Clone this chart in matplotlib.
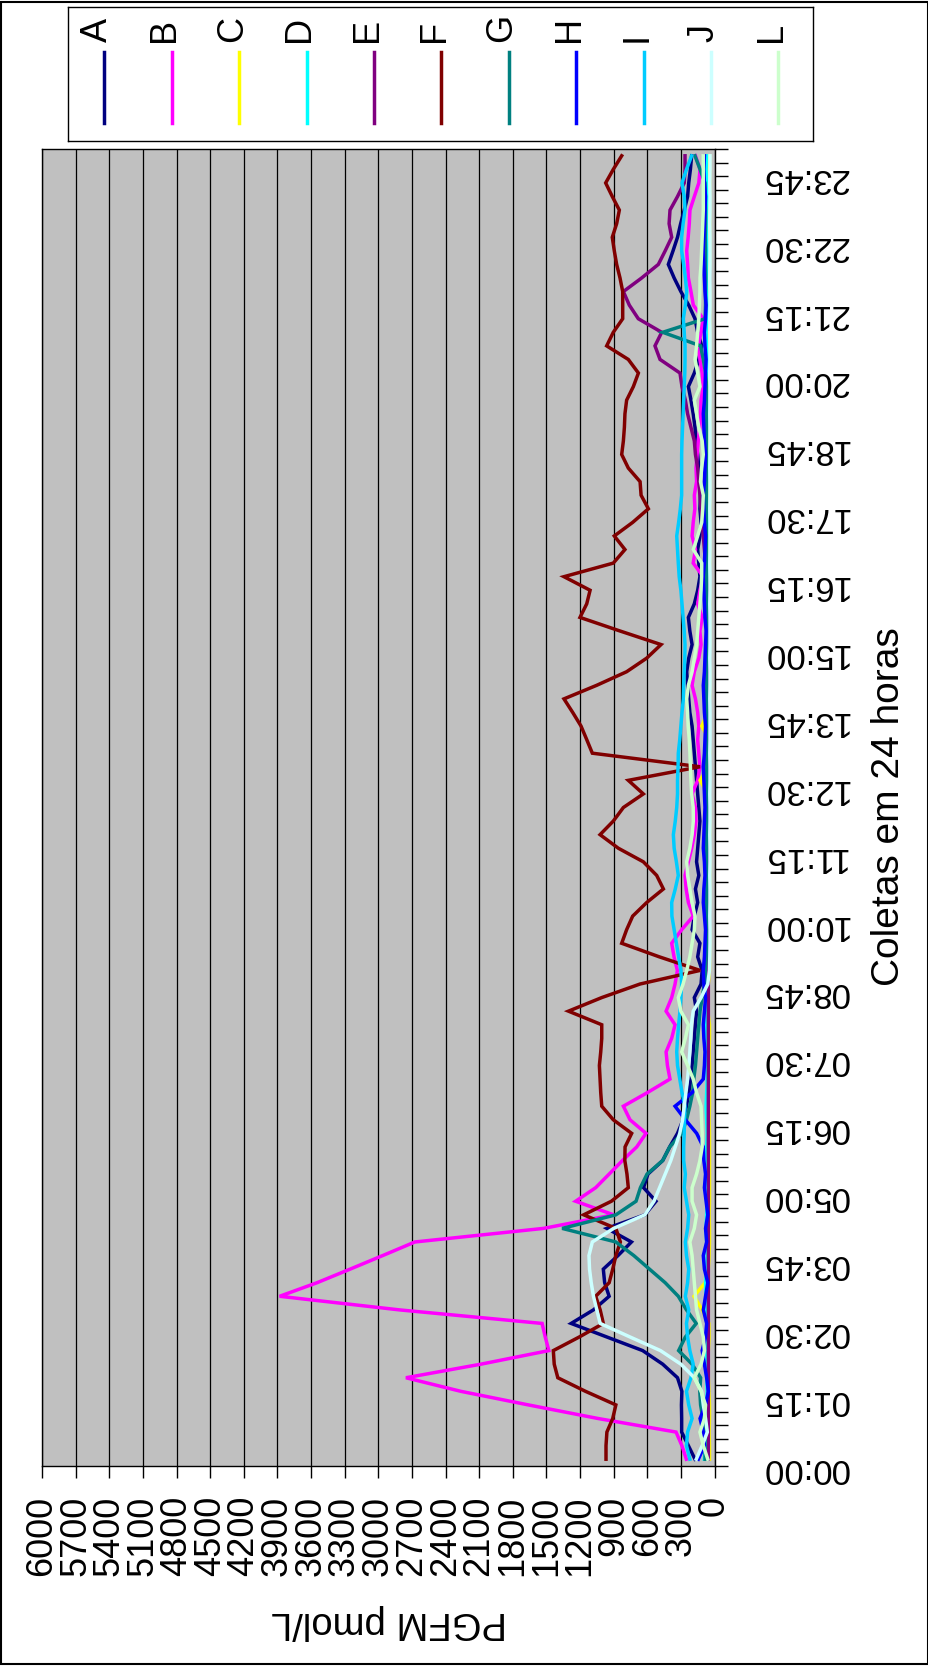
import matplotlib
matplotlib.use("Agg")
import matplotlib.pyplot as plt
from matplotlib.patches import Rectangle
import numpy as np

plt.rcParams['font.family'] = ['Liberation Sans', 'DejaVu Sans']

# ---------------- data (97 collections, every 15 min, 00:00 .. 24:00) ----------------
series_names = ['A', 'B', 'C', 'D', 'E', 'F', 'G', 'H', 'I', 'J', 'L']
series_colors = ['#000080', '#FF00FF', '#FFFF00', '#00FFFF', '#800080', '#800000',
                 '#008080', '#0000FF', '#00CCFF', '#CCFFFF', '#CCFFCC']

time_labels = ['00:00', '01:15', '02:30', '03:45', '05:00', '06:15', '07:30', '08:45',
               '10:00', '11:15', '12:30', '13:45', '15:00', '16:15', '17:30', '18:45',
               '20:00', '21:15', '22:30', '23:45']
value_ticks = [0, 300, 600, 900, 1200, 1500, 1800, 2100, 2400, 2700, 3000,
               3300, 3600, 3900, 4200, 4500, 4800, 5100, 5400, 5700, 6000]

A = [174, 233, 293, 293, 295, 291, 330, 462, 641, 960, 1279, 1080, 940, 980, 992, 861, 741, 960, 622, 522, 633, 594, 462,
     400, 330, 280, 250, 230, 210, 200, 190, 180, 170, 160, 180, 120, 110, 150, 130, 200, 180, 150, 170, 140, 160, 150, 140, 130,
     140, 150, 160, 170, 180, 190, 200, 220, 230, 240, 248, 230, 200, 220, 233, 180, 150, 130, 140, 150, 130, 120, 130, 125,
     130, 140, 150, 165, 174, 190, 210, 233, 180, 140, 114, 150, 174, 230, 300, 360, 412, 370, 330, 302, 270, 240, 230, 215, 204]
B = [251, 291, 343, 1040, 1661, 2263, 2753, 2084, 1478, 1510, 1538, 2813, 3880, 3546, 3251, 2960, 2673, 1526, 900, 1239, 1060, 940, 821,
     694, 611, 754, 813, 599, 397, 420, 432, 382, 352, 432, 382, 352, 331, 361, 382, 293, 189, 233, 253, 263, 233, 204, 180, 165,
     170, 200, 150, 130, 140, 150, 140, 150, 170, 200, 180, 140, 120, 130, 110, 150, 130, 100, 190, 170, 200, 190, 175, 180,
     160, 165, 155, 145, 130, 125, 120, 100, 110, 130, 144, 120, 100, 189, 210, 233, 240, 248, 235, 225, 219, 180, 140, 129, 170]
C = [45, 45, 48, 45, 45, 50, 55, 84, 55, 48, 50, 110, 183, 84, 55, 48, 45, 45, 48, 45, 45, 45, 45,
     45, 45, 48, 45, 45, 45, 45, 48, 45, 45, 60, 100, 55, 45, 45, 45, 45, 48, 45, 45, 45, 45, 48, 45, 45,
     45, 60, 129, 55, 45, 48, 114, 60, 45, 45, 45, 48, 45, 45, 45, 45, 45, 48, 45, 45, 45, 45, 45, 45,
     45, 45, 48, 45, 45, 45, 45, 45, 45, 48, 45, 45, 45, 45, 45, 48, 45, 45, 45, 45, 45, 45, 45, 45, 45]
D = [90, 80, 70, 75, 70, 65, 70, 80, 75, 70, 65, 70, 75, 80, 70, 65, 70, 75, 70, 65, 70, 75, 70,
     70, 65, 70, 75, 70, 65, 70, 75, 80, 70, 65, 70, 75, 70, 65, 70, 75, 70, 65, 70, 75, 70, 65, 70, 75,
     70, 65, 70, 75, 70, 65, 70, 75, 70, 65, 70, 75, 70, 65, 70, 75, 70, 65, 70, 75, 70, 65, 70, 75,
     70, 65, 70, 75, 70, 65, 70, 75, 70, 65, 70, 75, 70, 65, 70, 75, 70, 65, 70, 75, 70, 65, 70, 75, 70]
E = [55, 55, 55, 55, 55, 55, 55, 55, 55, 55, 55, 55, 55, 55, 55, 55, 55, 55, 55, 55, 55, 55, 55,
     55, 55, 55, 55, 55, 55, 55, 55, 55, 55, 55, 55, 55, 55, 55, 55, 55, 55, 55, 55, 55, 55, 55, 55, 55,
     55, 55, 55, 55, 55, 55, 55, 55, 55, 55, 55, 55, 55, 55, 55, 55, 60, 70, 80, 90, 100, 110, 120, 130,
     140, 150, 170, 180, 210, 240, 260, 290, 308, 486, 531, 471, 680, 760, 813, 650, 501, 440, 382, 405, 397, 330, 270, 263, 263]
F = [968, 968, 960, 908, 880, 1151, 1398, 1430, 1438, 1207, 992, 1020, 1060, 940, 908, 880, 840, 880, 1167, 920, 769, 781, 800,
     798, 739, 903, 1006, 1015, 1021, 1027, 1015, 1006, 1006, 1303, 1006, 664, 129, 492, 828, 784, 730, 605, 456, 516, 635, 858, 1021, 903,
     813, 635, 769, 129, 1090, 1140, 1191, 1265, 1343, 1051, 784, 605, 477, 843, 1200, 1140, 1110, 1343, 903, 799, 894, 730, 590, 655,
     664, 769, 828, 813, 804, 799, 784, 724, 679, 769, 962, 903, 819, 819, 819, 843, 873, 894, 912, 873, 849, 912, 971, 903, 828]
G = [84, 84, 92, 104, 124, 131, 124, 200, 320, 260, 163, 250, 323, 440, 580, 720, 880, 1359, 880, 700, 661, 602, 462,
     400, 290, 250, 220, 195, 185, 170, 160, 150, 140, 129, 110, 90, 80, 75, 70, 70, 72, 70, 68, 70, 72, 70, 70, 68,
     70, 70, 68, 70, 72, 70, 70, 68, 70, 70, 72, 70, 68, 70, 70, 72, 70, 70, 68, 70, 70, 72, 70, 70,
     70, 70, 72, 70, 70, 70, 72, 70, 80, 100, 124, 462, 84, 80, 80, 78, 80, 80, 82, 80, 80, 82, 85, 129, 174]
H = [144, 90, 100, 129, 80, 55, 70, 90, 110, 80, 70, 100, 80, 60, 90, 100, 70, 80, 60, 75, 90, 80, 95,
     100, 159, 260, 352, 200, 100, 90, 85, 95, 100, 90, 80, 95, 100, 90, 85, 80, 90, 100, 95, 85, 90, 100, 95, 90,
     85, 90, 95, 100, 90, 85, 80, 90, 95, 100, 90, 85, 80, 75, 85, 90, 95, 100, 90, 85, 80, 90, 95, 100,
     90, 85, 80, 90, 95, 100, 90, 85, 80, 75, 85, 90, 80, 75, 85, 90, 95, 100, 95, 90, 85, 80, 90, 95, 90]
I = [220, 250, 240, 200, 230, 250, 210, 190, 220, 240, 250, 230, 260, 240, 230, 250, 260, 240, 230, 250, 270, 260, 275,
     275, 270, 268, 263, 290, 310, 330, 337, 330, 320, 308, 300, 293, 300, 320, 340, 360, 380, 382, 350, 323, 340, 360, 367, 350,
     337, 330, 330, 325, 323, 310, 300, 290, 278, 275, 270, 265, 263, 270, 280, 290, 300, 315, 323, 330, 337, 320, 305, 293,
     293, 293, 293, 290, 285, 280, 275, 270, 265, 263, 263, 270, 278, 260, 248, 260, 275, 293, 293, 280, 263, 270, 290, 250, 204]
J = [163, 110, 64, 80, 100, 115, 180, 300, 482, 753, 1020, 1050, 1080, 1100, 1115, 1120, 1090, 900, 622, 540, 490, 440, 390,
     350, 310, 285, 270, 255, 240, 230, 220, 212, 206, 190, 120, 60, 45, 42, 40, 40, 42, 40, 40, 42, 40, 40, 42, 40,
     40, 42, 40, 40, 42, 40, 40, 40, 42, 40, 40, 42, 40, 40, 40, 42, 40, 40, 42, 40, 40, 40, 42, 40,
     40, 42, 40, 40, 40, 42, 40, 40, 42, 40, 40, 40, 42, 40, 40, 42, 40, 40, 40, 42, 40, 40, 42, 40, 40]
L = [60, 100, 130, 90, 80, 120, 180, 120, 90, 100, 130, 160, 170, 180, 190, 200, 220, 180, 160, 200, 200, 160, 130,
     110, 110, 115, 120, 160, 190, 240, 293, 260, 233, 300, 323, 280, 248, 220, 200, 180, 174, 200, 220, 240, 248, 220, 200, 189,
     190, 204, 210, 215, 219, 225, 235, 240, 248, 233, 200, 180, 160, 150, 140, 130, 120, 115, 114, 189, 150, 114, 105, 100,
     125, 115, 100, 110, 140, 160, 180, 130, 150, 174, 160, 150, 140, 135, 130, 129, 120, 115, 110, 105, 100, 100, 100, 100, 100]

series_values = [A, B, C, D, E, F, G, H, I, J, L]

# ---------------- figure ----------------
W, H_px = 929, 1666
fig = plt.figure(figsize=(W / 100, H_px / 100), dpi=100)
fig.patch.set_facecolor('white')

def fx(px):
    return px / W

def fy(py):
    return 1 - py / H_px

ax_left, ax_right, ax_top, ax_bottom = 42, 714.5, 149, 1466
ax = fig.add_axes([fx(ax_left), fy(ax_bottom), fx(ax_right - ax_left), (ax_bottom - ax_top) / H_px])
ax.set_facecolor('#C0C0C0')

n = len(A)
xcat = np.arange(n)
for vals, col in zip(series_values, series_colors):
    ax.plot(vals, xcat, color=col, lw=2.5, solid_joinstyle='miter', zorder=3)

ax.set_xlim(6000, 0)
ax.set_ylim(-0.5, n - 0.5)

# value axis (bottom)
ax.set_xticks(value_ticks)
ax.set_xticklabels([str(v) for v in value_ticks])
ax.tick_params(axis='x', direction='out', length=8.6, width=1.0, pad=13,
               labelsize=26, labelrotation=90, colors='black')
ax.grid(axis='x', color='black', lw=0.9, zorder=1)

# category axis (right)
ax.yaxis.tick_right()
ax.set_yticks([5 * k - 0.4 for k in range(len(time_labels))])
ax.set_yticklabels(time_labels)
ax.set_yticks(np.arange(-0.5, n, 1.0), minor=True)
ax.tick_params(axis='y', which='major', length=0, pad=34, labelsize=25, labelrotation=180)
ax.tick_params(axis='y', which='minor', direction='out', length=9.4, width=1.0, color='black')
for s in ax.spines.values():
    s.set_color('black')
    s.set_linewidth(1.0)

fig.text(fx(389), fy(1622), 'PGFM pmol/L', rotation=180, ha='center', va='center', fontsize=27.5)
fig.text(fx(889), fy(807), 'Coletas em 24 horas', rotation=90, ha='center', va='center', fontsize=28)

# ---------------- legend (vertical entries) ----------------
lg_left, lg_right, lg_top, lg_bottom = 68, 813, 7, 141
lax = fig.add_axes([fx(lg_left), fy(lg_bottom), fx(lg_right - lg_left), (lg_bottom - lg_top) / H_px])
step = 67.4
x0 = -(104.3 - lg_left) / step
lax.set_xlim(x0, x0 + (lg_right - lg_left) / step)
lax.set_ylim(lg_bottom - lg_top, 0)
lax.set_xticks([])
lax.set_yticks([])
for s in lax.spines.values():
    s.set_color('black')
    s.set_linewidth(1.0)
for i, (name, col) in enumerate(zip(series_names, series_colors)):
    lax.plot([i, i], [45, 116], color=col, lw=2.5)
    lax.text(i - 0.1, 35, name, rotation=90, ha='center', va='bottom', fontsize=26)

# outer chart border
fig.add_artist(Rectangle((0.0015, 0.001), 0.997, 0.998, transform=fig.transFigure,
                         fill=False, edgecolor='black', lw=1.5))

fig.savefig('out.png', dpi=100, facecolor='white')
